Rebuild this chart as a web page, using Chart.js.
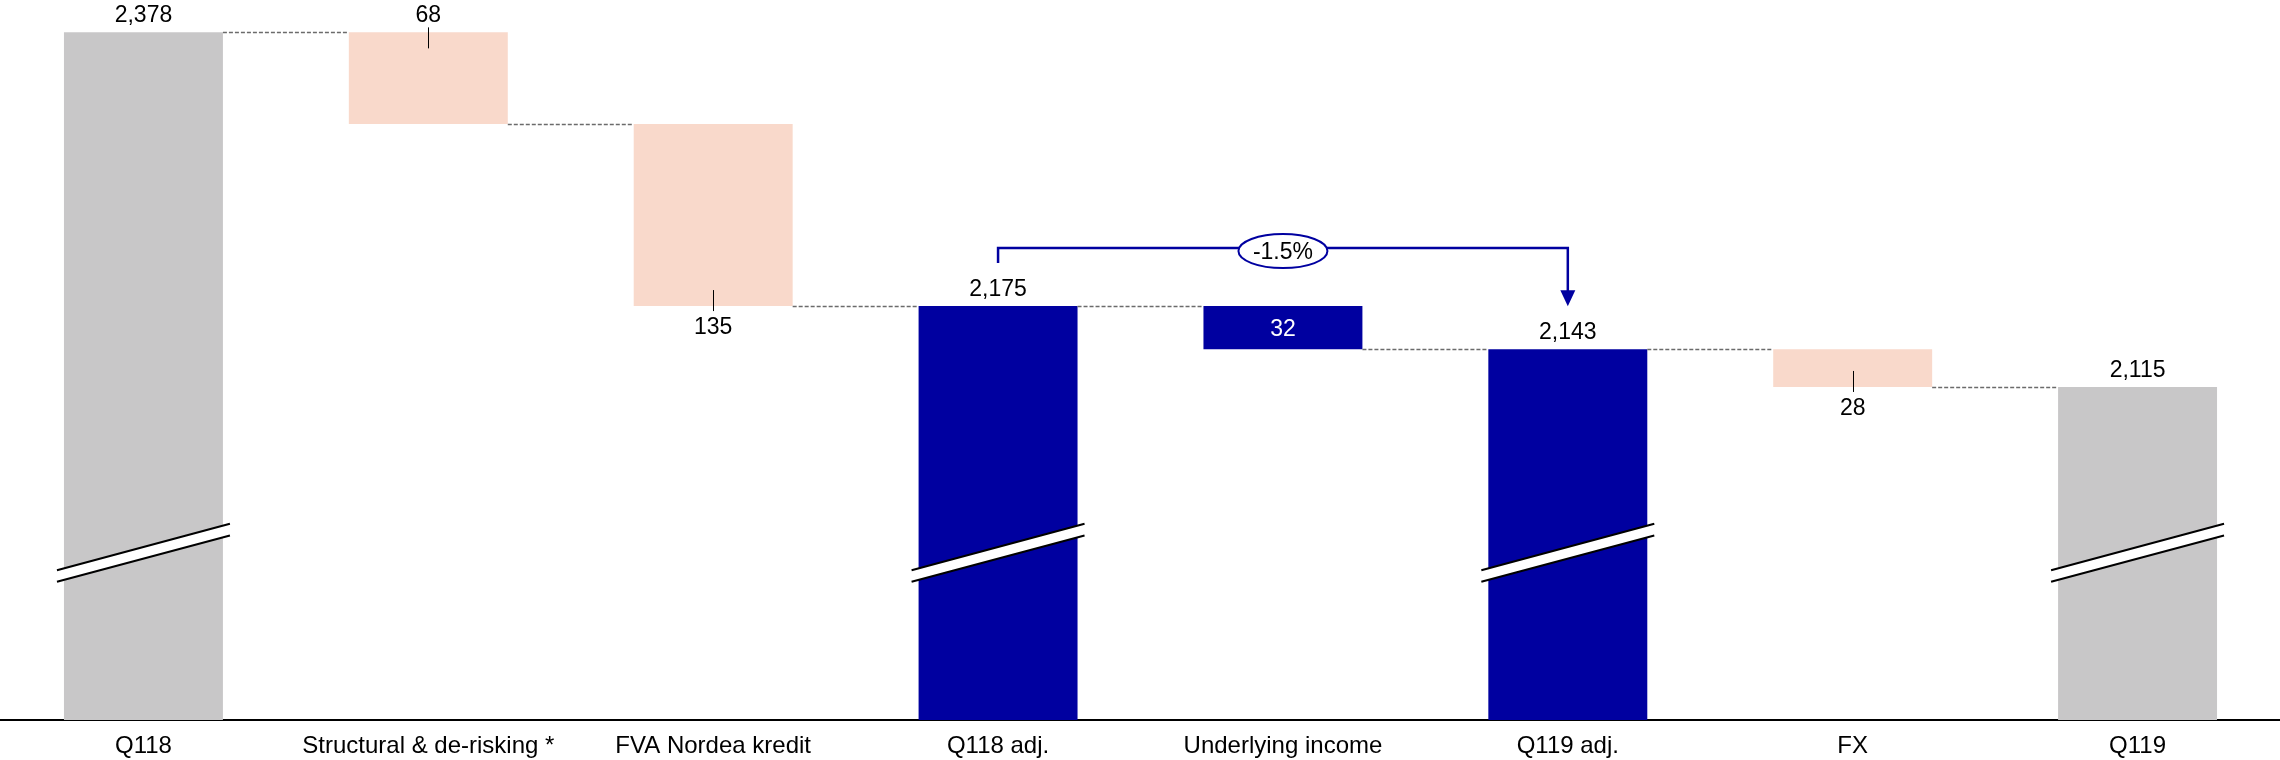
<!DOCTYPE html>
<html>
<head>
<meta charset="utf-8">
<script src="https://cdn.jsdelivr.net/npm/chart.js@4.4.1/dist/chart.umd.min.js"></script>
<style>
  html, body { margin: 0; padding: 0; background: #fff; }
</style>
</head>
<body>
<canvas id="myChart" width="2280" height="760"></canvas>
<script>
// Bridge: totals and the movements between them
var categories = ['Q118', 'Structural & de-risking *', 'FVA Nordea kredit', 'Q118 adj.',
                  'Underlying income', 'Q119 adj.', 'FX', 'Q119'];
var values = [2378, -68, -135, 2175, -32, 2143, -28, 2115];
var isTotal = [true, false, false, true, false, true, false, true];
var barColors = ['#C8C7C8', '#F9D9CB', '#F9D9CB', '#0000A0', '#0000A0', '#0000A0', '#F9D9CB', '#C8C7C8'];
var labelPos = ['top', 'topTick', 'bottomTick', 'top', 'inside', 'top', 'bottomTick', 'top'];

// the value axis is cut, so it starts well above zero
var yMin = 1868, yMax = 2402;
var breakAt = 1992;

var FONT = 'Arial, "Liberation Sans", sans-serif';
var NAVY = '#0000A0';

// floating [low, high] pairs and the running level after each bar
var ranges = [], levels = [];
var level = 0;
values.forEach(function (v, i) {
  if (isTotal[i]) {
    ranges.push([yMin, v]);
    level = v;
  } else {
    ranges.push([Math.min(level, level + v), Math.max(level, level + v)]);
    level = level + v;
  }
  levels.push(level);
});

var waterfallExtras = {
  id: 'waterfallExtras',
  afterDatasetsDraw: function (chart) {
    var ctx = chart.ctx;
    var y = chart.scales.y;
    var bars = chart.getDatasetMeta(0).data;
    ctx.save();

    // dashed connectors between neighbouring bars
    ctx.strokeStyle = '#6b6b6b';
    ctx.lineWidth = 1.5;
    ctx.setLineDash([4, 2]);
    for (var i = 0; i < bars.length - 1; i++) {
      var ly = Math.round(y.getPixelForValue(levels[i])) + 0.5;
      ctx.beginPath();
      ctx.moveTo(bars[i].x + bars[i].width / 2, ly);
      ctx.lineTo(bars[i + 1].x - bars[i + 1].width / 2, ly);
      ctx.stroke();
    }
    ctx.setLineDash([]);

    // axis-break marks on the total bars
    var slope = 0.268, gap = 11.6;
    var by = y.getPixelForValue(breakAt);
    bars.forEach(function (b, i) {
      if (!isTotal[i]) return;
      var L = b.width / 2 + 7;
      var x0 = b.x - L, x1 = b.x + L;
      var u0 = by - gap / 2 + slope * L, u1 = by - gap / 2 - slope * L;
      ctx.fillStyle = '#fff';
      ctx.beginPath();
      ctx.moveTo(x0, u0); ctx.lineTo(x1, u1);
      ctx.lineTo(x1, u1 + gap); ctx.lineTo(x0, u0 + gap);
      ctx.closePath();
      ctx.fill();
      ctx.strokeStyle = '#000';
      ctx.lineWidth = 2;
      ctx.beginPath();
      ctx.moveTo(x0, u0); ctx.lineTo(x1, u1);
      ctx.moveTo(x0, u0 + gap); ctx.lineTo(x1, u1 + gap);
      ctx.stroke();
    });

    // value labels
    ctx.font = '23px ' + FONT;
    ctx.textAlign = 'center';
    ctx.textBaseline = 'alphabetic';
    bars.forEach(function (b, i) {
      var text = Math.abs(values[i]).toLocaleString('en-US');
      var top = Math.min(b.y, b.base), bottom = Math.max(b.y, b.base);
      var x = Math.round(b.x) + 0.5;
      ctx.fillStyle = '#000';
      ctx.strokeStyle = '#000';
      ctx.lineWidth = 1;
      if (labelPos[i] === 'top') {
        ctx.fillText(text, b.x, top - 10);
      } else if (labelPos[i] === 'topTick') {
        ctx.fillText(text, b.x, top - 10);
        ctx.beginPath(); ctx.moveTo(x, top - 5); ctx.lineTo(x, top + 16); ctx.stroke();
      } else if (labelPos[i] === 'bottomTick') {
        ctx.fillText(text, b.x, bottom + 28);
        ctx.beginPath(); ctx.moveTo(x, bottom - 16); ctx.lineTo(x, bottom + 5); ctx.stroke();
      } else {
        ctx.fillStyle = '#fff';
        ctx.fillText(text, b.x, (top + bottom) / 2 + 8);
      }
    });

    // change between the two adjusted totals
    var a = bars[3], c = bars[5];
    var ta = Math.min(a.y, a.base), tc = Math.min(c.y, c.base);
    var lineY = Math.min(ta, tc) - 58;
    var pct = ((values[5] / values[3]) - 1) * 100;
    ctx.strokeStyle = NAVY;
    ctx.fillStyle = NAVY;
    ctx.lineWidth = 2.5;
    ctx.beginPath();
    ctx.moveTo(a.x, ta - 43);
    ctx.lineTo(a.x, lineY);
    ctx.lineTo(c.x, lineY);
    ctx.lineTo(c.x, tc - 58);
    ctx.stroke();
    ctx.beginPath();
    ctx.moveTo(c.x - 7.5, tc - 59);
    ctx.lineTo(c.x + 7.5, tc - 59);
    ctx.lineTo(c.x, tc - 43);
    ctx.closePath();
    ctx.fill();

    var mx = (a.x + c.x) / 2, my = lineY + 3;
    ctx.beginPath();
    ctx.ellipse(mx, my, 44.5, 17, 0, 0, Math.PI * 2);
    ctx.fillStyle = '#fff';
    ctx.fill();
    ctx.lineWidth = 2;
    ctx.stroke();
    ctx.fillStyle = '#000';
    ctx.font = '23px ' + FONT;
    ctx.fillText(pct.toFixed(1) + '%', mx, my + 8);

    ctx.restore();
  }
};

var ctx = document.getElementById('myChart').getContext('2d');
var chart = new Chart(ctx, {
  type: 'bar',
  data: {
    labels: categories,
    datasets: [{
      data: ranges,
      backgroundColor: barColors,
      borderWidth: 0,
      barPercentage: 0.558,
      categoryPercentage: 1
    }]
  },
  options: {
    responsive: false,
    animation: false,
    devicePixelRatio: 1,
    layout: { padding: { left: 1, right: 0, top: 0, bottom: 0 } },
    plugins: {
      legend: { display: false },
      tooltip: { enabled: false }
    },
    scales: {
      x: {
        grid: { display: false, drawTicks: false },
        border: { display: true, color: '#000', width: 2 },
        ticks: {
          color: '#000',
          font: { family: FONT, size: 24 },
          padding: 12,
          maxRotation: 0,
          autoSkip: false
        },
        afterFit: function (scale) { scale.height = 40; }
      },
      y: { display: false, min: yMin, max: yMax }
    }
  },
  plugins: [waterfallExtras]
});
</script>
</body>
</html>
